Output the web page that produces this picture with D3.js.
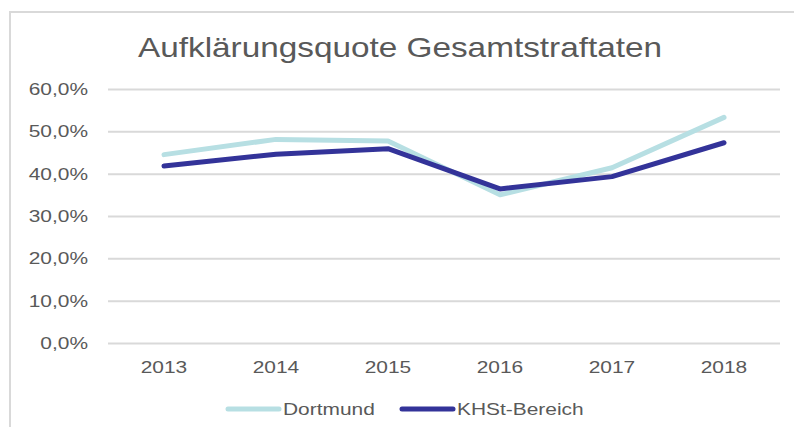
<!DOCTYPE html>
<html>
<head>
<meta charset="utf-8">
<script src="https://cdn.jsdelivr.net/npm/d3@7"></script>
<style>
  html, body { margin: 0; padding: 0; background: #fff; }
  svg { display: block; font-family: "Liberation Sans", Arial, sans-serif; }
</style>
</head>
<body>
<svg id="chart" width="794" height="427"></svg>
<script>
"use strict";

// data
const years = ["2013", "2014", "2015", "2016", "2017", "2018"];
const dortmund = [44.5, 48.1, 47.7, 35.0, 41.4, 53.3];
const khst = [41.8, 44.6, 45.9, 36.4, 39.3, 47.3];
const yTicks = [0, 10, 20, 30, 40, 50, 60];
const seriesNames = ["Dortmund", "KHSt-Bereich"];

const W = 794, H = 427;
const m = {left: 108, right: 14, top: 89, bottom: 84};
const sx = 1.23;   // the source text is rendered a bit wide
const svg = d3.select("#chart");

// chart frame (only left/top edges visible in the crop)
svg.append("rect")
  .attr("x", 10).attr("y", 12)
  .attr("width", W + 20).attr("height", H + 20)
  .attr("fill", "none").attr("stroke", "#d9d9d9").attr("stroke-width", 2);

svg.append("text")
  .attr("transform", `translate(400,57) scale(1.19,1)`)
  .attr("text-anchor", "middle")
  .attr("font-size", 28).attr("fill", "#595959")
  .text("Aufklärungsquote Gesamtstraftaten");

let x = d3.scaleBand().domain(years).range([m.left, W - m.right]);
let y = d3.scaleLinear().domain([0, 60]).range([H - m.bottom, m.top]);

// gridlines + y labels
let yAxis = d3.axisLeft(y).tickValues(yTicks)
  .tickSize(-(W - m.right - m.left))
  .tickPadding(20)
  .tickFormat(d => d3.format(".1f")(d).replace(".", ",") + "%");

let gy = svg.append("g").attr("transform", `translate(${m.left},0)`).call(yAxis);
gy.select(".domain").remove();
gy.selectAll(".tick line").attr("stroke", "#d9d9d9").attr("stroke-width", 2);
gy.selectAll(".tick text").attr("font-size", 17).attr("fill", "#595959")
  .attr("font-family", "Liberation Sans, Arial, sans-serif")
  .attr("x", -20 / sx)
  .attr("transform", `scale(${sx},1)`);

// x labels
let xAxis = d3.axisBottom(x).tickSize(0).tickPadding(18);
let gx = svg.append("g").attr("transform", `translate(0,${y(0)})`).call(xAxis);
gx.select(".domain").remove();
gx.selectAll(".tick text").attr("font-size", 17).attr("fill", "#595959")
  .attr("font-family", "Liberation Sans, Arial, sans-serif")
  .attr("transform", `scale(${sx},1)`);

const colors = ["#b7dfe3", "#333399"];
let line = d3.line()
  .x((d, i) => x(years[i]) + x.bandwidth() / 2)
  .y(d => y(d));

[dortmund, khst].forEach((s, k) => {
  svg.append("path")
    .datum(s)
    .attr("d", line)
    .attr("fill", "none")
    .attr("stroke", colors[k])
    .attr("stroke-width", 5)
    .attr("stroke-linejoin", "round")
    .attr("stroke-linecap", "round");
});

// legend
const legX = [228, 402];
seriesNames.forEach((n, k) => {
  let g = svg.append("g").attr("transform", `translate(${legX[k]},409)`);
  g.append("line")
    .attr("x1", 0).attr("x2", 51).attr("y1", 0).attr("y2", 0)
    .attr("stroke", colors[k]).attr("stroke-width", 5)
    .attr("stroke-linecap", "round");
  g.append("text")
    .attr("transform", `translate(55,6) scale(${sx},1)`)
    .attr("font-size", 17).attr("fill", "#595959")
    .text(n);
});
</script>
</body>
</html>
